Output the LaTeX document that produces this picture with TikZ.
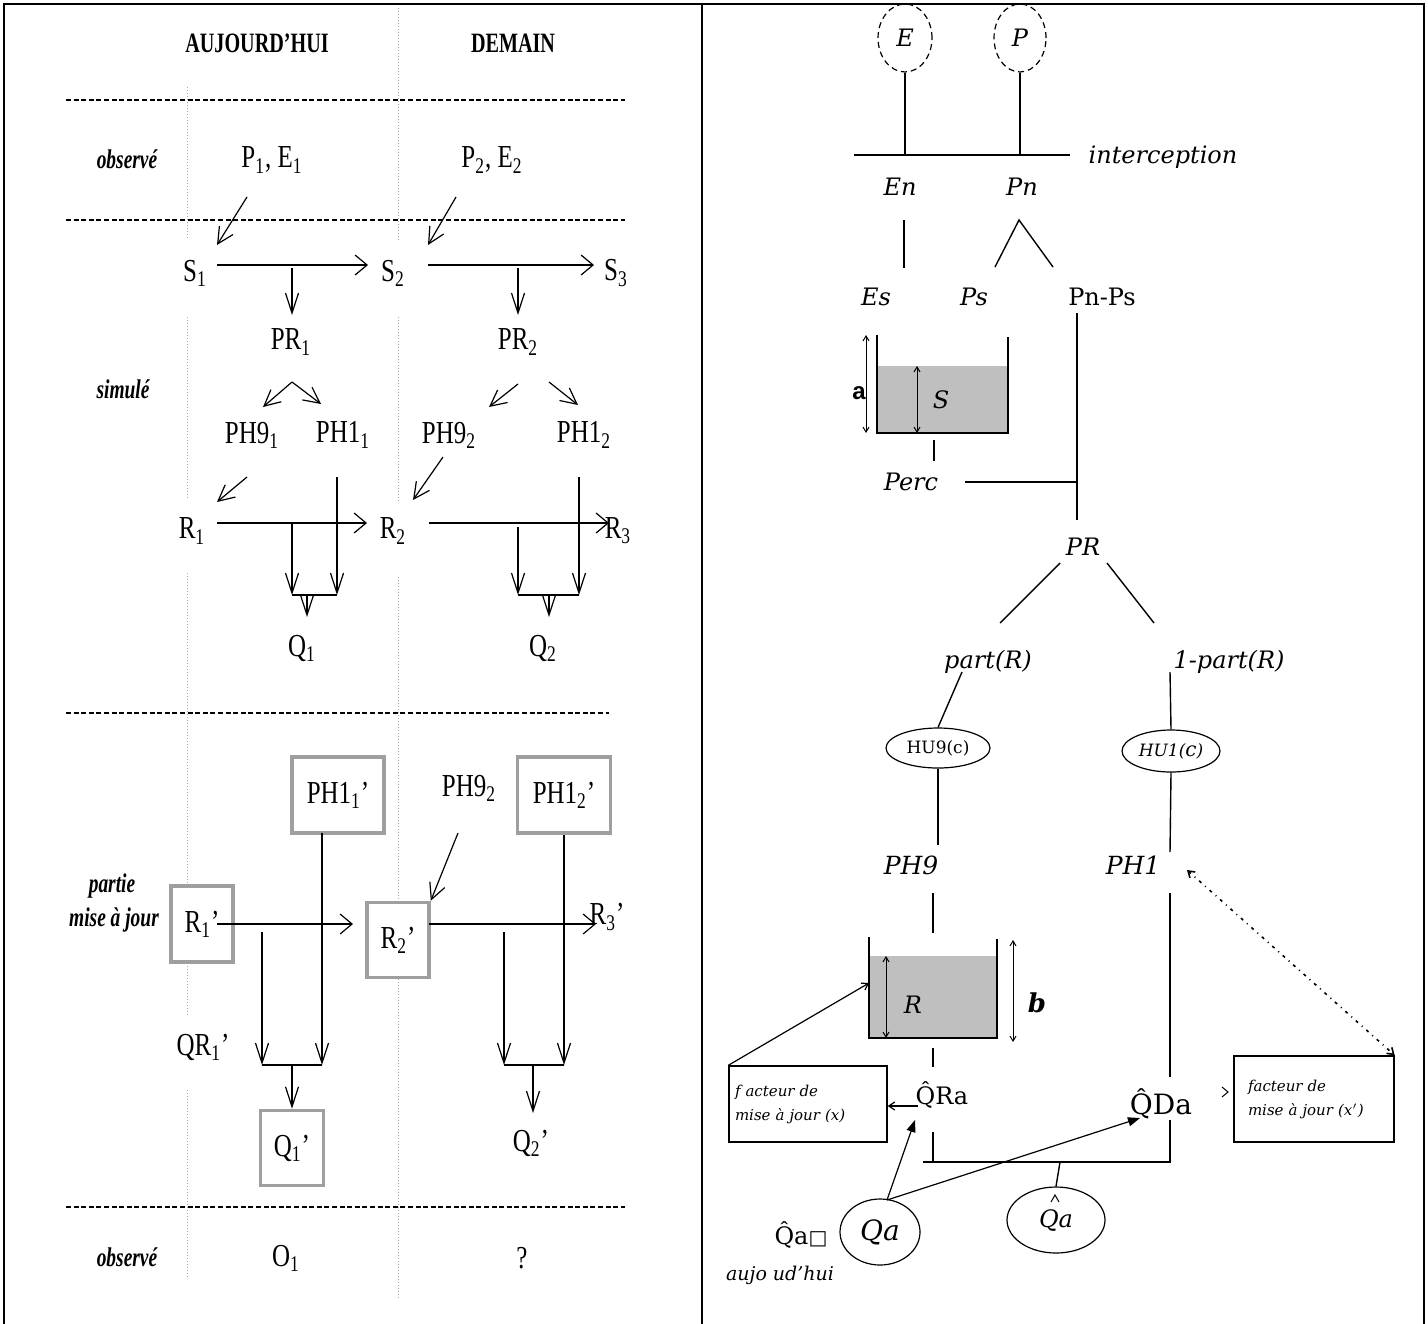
\documentclass[tikz,border=0pt]{standalone}
\usepackage{fontspec}
\setmainfont{Liberation Serif}
\newfontfamily\hfont[FakeStretch=0.72]{Liberation Serif}
\newfontfamily\lfont[FakeStretch=0.78]{Liberation Serif}
\newfontfamily\rfont{DejaVu Serif}
\newfontfamily\sfont{Liberation Sans}
\newfontfamily\symfont{DejaVu Sans}
\usetikzlibrary{arrows.meta,shapes.geometric}
\begin{document}
\begin{tikzpicture}[x=0.5pt,y=-0.5pt,
  frame/.style={line width=1.3pt},
  dotv/.style={gray!70, line width=0.5pt, dash pattern=on 0.5pt off 1pt},
  dashh/.style={line width=0.7pt, dash pattern=on 2.5pt off 1.3pt},
  hdr/.style={font=\hfont\bfseries\fontsize{14}{14}\selectfont, inner sep=0pt},
  rowlbl/.style={font=\hfont\bfseries\itshape\fontsize{13.5}{13.5}\selectfont, inner sep=0pt},
  lbl/.style={font=\lfont\fontsize{16}{16}\selectfont, inner sep=0pt},
  harr/.style={line width=0.6pt, -{Straight Barb[length=6pt,width=10pt]}},
  varr/.style={line width=0.6pt, -{Straight Barb[length=10pt,width=6.5pt]}},
  darr/.style={line width=0.6pt, -{Straight Barb[length=8pt,width=8pt]}},
  joinline/.style={line width=1.1pt},
  gbox/.style={draw=gray!75, line width=1.8pt, fill=white, inner sep=0pt, font=\lfont\fontsize{16}{16}\selectfont},
  rt/.style={font=\rfont\itshape\fontsize{12}{12}\selectfont, inner sep=0pt},
  ru/.style={font=\rfont\fontsize{12}{12}\selectfont, inner sep=0pt},
  rline/.style={line width=0.7pt},
  oval/.style={ellipse, draw, line width=0.6pt, inner sep=0pt},
  water/.style={fill=gray!50, draw=none},
  dbl/.style={line width=0.5pt, {Straight Barb[length=2.5pt,width=3pt]}-{Straight Barb[length=2.5pt,width=3pt]}},
  factbox/.style={draw, line width=0.7pt, fill=white, font=\rfont\itshape\fontsize{7.5}{12}\selectfont, align=left, inner sep=0pt},
  filla/.style={line width=0.6pt, -{Triangle[length=6pt,width=4.5pt]}},
  thinarr/.style={line width=0.6pt, -{Straight Barb[length=3pt,width=4pt]}},
  dashdot/.style={line width=0.8pt, dash pattern=on 1.5pt off 2.5pt on 0.5pt off 2.5pt,
     {Straight Barb[length=3pt,width=4pt]}-{Straight Barb[length=3pt,width=4pt]}}
]
\useasboundingbox (0,0) rectangle (1428,1323);
% ---------- frame ----------
\draw[frame] (4,1330) -- (4,4) -- (1424,4) -- (1424,1330);
\draw[frame] (702,4) -- (702,1330);

% ---------- left panel grid ----------
\draw[dotv] (187,87) -- (187,240);
\draw[dotv] (187,317) -- (187,500);
\draw[dotv] (187,573) -- (187,1015);
\draw[dotv] (187,1090) -- (187,1277);
\draw[dotv] (398,8) -- (398,240);
\draw[dotv] (398,317) -- (398,503);
\draw[dotv] (398,577) -- (398,1300);
\draw[dashh] (66,100) -- (625,100);
\draw[dashh] (66,220) -- (625,220);
\draw[dashh] (66,713) -- (609,713);
\draw[dashh] (66,1207) -- (625,1207);

% headers and row labels
\node[hdr] (auj) at (257,43) {AUJOURD’HUI};
\node[hdr] (dem) at (513,43) {DEMAIN};
\node[rowlbl] (obsA) at (127,159) {observé};
\node[rowlbl] (simu) at (123,389) {simulé};
\node[rowlbl] (part) at (112,886) {partie};
\node[rowlbl] (mise) at (114,920) {mise à jour};
\node[rowlbl] (obsB) at (127,1257) {observé};

% simulated nodes
\node[lbl] (pe1) at (272,160) {P\textsubscript{1}, E\textsubscript{1}};
\node[lbl] (pe2) at (492,160) {P\textsubscript{2}, E\textsubscript{2}};
\node[lbl] (s1) at (195,273) {S\textsubscript{1}};
\node[lbl] (s2) at (393,273) {S\textsubscript{2}};
\node[lbl] (s3) at (616,273) {S\textsubscript{3}};
\node[lbl] (pr1) at (291,342) {PR\textsubscript{1}};
\node[lbl] (pr2) at (518,342) {PR\textsubscript{2}};
\node[lbl] (ph91) at (252,435) {PH9\textsubscript{1}};
\node[lbl] (ph11) at (343,435) {PH1\textsubscript{1}};
\node[lbl] (ph92) at (449,435) {PH9\textsubscript{2}};
\node[lbl] (ph12) at (584,435) {PH1\textsubscript{2}};
\node[lbl] (r1) at (192,531) {R\textsubscript{1}};
\node[lbl] (r2) at (393,531) {R\textsubscript{2}};
\node[lbl] (r3) at (618,531) {R\textsubscript{3}};
\node[lbl] (q1) at (302,648) {Q\textsubscript{1}};
\node[lbl] (q2) at (543,648) {Q\textsubscript{2}};

\coordinate (a1s) at (247,197); \coordinate (a1e) at (217,245);
\coordinate (a2s) at (456,197); \coordinate (a2e) at (428,245);
\coordinate (s12s) at (217,265); \coordinate (s12e) at (368,265);
\coordinate (s23s) at (428,265); \coordinate (s23e) at (594,265);
\coordinate (d1s) at (292,268); \coordinate (d1e) at (292,315);
\coordinate (d2s) at (518,268); \coordinate (d2e) at (518,315);
\coordinate (w1) at (292,382); \coordinate (w1l) at (263,407); \coordinate (w1r) at (321,404);
\coordinate (w2ls) at (518,384); \coordinate (w2le) at (489,407);
\coordinate (w2rs) at (549,382); \coordinate (w2re) at (578,405);
\coordinate (b1s) at (247,477); \coordinate (b1e) at (217,502);
\coordinate (b2s) at (443,457); \coordinate (b2e) at (413,500);
\coordinate (r12s) at (217,523); \coordinate (r12e) at (367,523);
\coordinate (r23s) at (429,523); \coordinate (r23e) at (609,523);
\coordinate (v1a) at (292,523); \coordinate (v1b) at (292,595);
\coordinate (v2a) at (337,477); \coordinate (v2b) at (337,595);
\coordinate (m1a) at (307,595); \coordinate (m1b) at (307,617);
\coordinate (v3a) at (518,527); \coordinate (v3b) at (518,595);
\coordinate (v4a) at (579,477); \coordinate (v4b) at (579,595);
\coordinate (m2a) at (549,595); \coordinate (m2b) at (549,617);

\draw[darr] (a1s) -- (a1e);
\draw[darr] (a2s) -- (a2e);
\draw[harr] (s12s) -- (s12e);
\draw[harr] (s23s) -- (s23e);
\draw[varr] (d1s) -- (d1e);
\draw[varr] (d2s) -- (d2e);
\draw[darr] (w1) -- (w1l);
\draw[darr] (w1) -- (w1r);
\draw[darr] (w2ls) -- (w2le);
\draw[darr] (w2rs) -- (w2re);
\draw[darr] (b1s) -- (b1e);
\draw[darr] (b2s) -- (b2e);
\draw[harr] (r12s) -- (r12e);
\draw[harr] (r23s) -- (r23e);
\draw[varr] (v1a) -- (v1b);
\draw[varr] (v2a) -- (v2b);
\draw[joinline] (v1b) -- (v2b);
\draw[varr] (m1a) -- (m1b);
\draw[varr] (v3a) -- (v3b);
\draw[varr] (v4a) -- (v4b);
\draw[joinline] (v3b) -- (v4b);
\draw[varr] (m2a) -- (m2b);

% updated part
\node[gbox, minimum width=31pt, minimum height=38pt] (r1p) at (202,924) {R\textsubscript{1}’\hspace{3pt}};
\node[gbox, minimum width=46pt, minimum height=38pt] (ph11p) at (338,795) {PH1\textsubscript{1}’\hspace{4pt}};
\node[gbox, minimum width=46.5pt, minimum height=38pt] (ph12p) at (564,795) {PH1\textsubscript{2}’\hspace{3pt}};
\node[gbox, minimum width=31pt, minimum height=37.5pt] (r2p) at (398,940) {R\textsubscript{2}’\hspace{2pt}};
\node[gbox, minimum width=31.5pt, minimum height=37.5pt] (q1p) at (292,1148) {Q\textsubscript{1}’};
\node[lbl] (ph92b) at (469,788) {PH9\textsubscript{2}};
\node[lbl] (r3p) at (607,917) {R\textsubscript{3}’};
\node[lbl] (qr1p) at (203,1047) {QR\textsubscript{1}’};
\node[lbl] (q2p) at (531,1143) {Q\textsubscript{2}’};
\node[lbl] (o1) at (286,1258) {O\textsubscript{1}};
\node[lbl] (qm) at (522,1258) {?};

\coordinate (u1s) at (217,924); \coordinate (u1e) at (353,924);
\coordinate (u2s) at (429,924); \coordinate (u2e) at (596,924);
\coordinate (u3s) at (458,833);
\coordinate (x1a) at (262,932); \coordinate (x1b) at (262,1065);
\coordinate (x2a) at (322,833); \coordinate (x2b) at (322,1065);
\coordinate (x3a) at (292,1065);
\coordinate (y1a) at (504,932); \coordinate (y1b) at (504,1065);
\coordinate (y2b) at (564,1065);
\coordinate (y3a) at (533,1065); \coordinate (y3b) at (533,1113);

\draw[harr] (u1s) -- (u1e);
\draw[harr] (u2s) -- (u2e);
\draw[darr] (u3s) -- (r2p.north east);
\draw[varr] (x1a) -- (x1b);
\draw[varr] (x2a) -- (x2b);
\draw[joinline] (x1b) -- (x2b);
\draw[varr] (x3a) -- (q1p.north);
\draw[varr] (y1a) -- (y1b);
\draw[varr] (ph12p.south) -- (y2b);
\draw[joinline] (y1b) -- (y2b);
\draw[varr] (y3a) -- (y3b);

% ---------- right panel ----------
\node[oval, densely dashed, minimum width=27pt, minimum height=34pt, rt] (E) at (905,38) {E};
\node[oval, densely dashed, minimum width=26pt, minimum height=34pt, rt] (P) at (1020,38) {P};
\coordinate (eb) at (905,155); \coordinate (pb) at (1020,155);
\coordinate (il) at (854,155); \coordinate (ir) at (1070,155);
\draw[rline] (E.south) -- (eb);
\draw[rline] (P.south) -- (pb);
\draw[line width=1pt] (il) -- (ir);
\node[rt] (interc) at (1163,157) {interception};
\node[rt] (En) at (900,187) {En};
\node[rt] (Pn) at (1022,187) {Pn};
\node[rt] (Es) at (876,297) {Es};
\node[rt] (Ps) at (974,297) {Ps};
\node[ru] (PnPs) at (1102,297) {Pn-Ps};
\coordinate (ena) at (904,220); \coordinate (enb) at (904,268);
\coordinate (pnl) at (995,267); \coordinate (pnt) at (1019,220); \coordinate (pnr) at (1053,267);
\draw[rline] (ena) -- (enb);
\draw[rline] (pnl) -- (pnt) -- (pnr);
\coordinate (pp1) at (1077,313); \coordinate (pp2) at (1077,520); \coordinate (pp3) at (1077,482);
\coordinate (pc1) at (965,482);
\draw[line width=0.9pt] (pp1) -- (pp2);
\draw[line width=0.9pt] (pc1) -- (pp3);
% reservoir S
\fill[water] (877,366) rectangle (1008,433);
\draw[line width=0.8pt] (877,335) -- (877,433) -- (1008,433) -- (1008,337);
\draw[line width=1.1pt] (877,366) -- (877,433);
\coordinate (sa1) at (866,335); \coordinate (sa2) at (866,433);
\coordinate (ss1) at (917,366); \coordinate (ss2) at (917,433);
\draw[dbl] (sa1) -- (sa2);
\draw[dbl] (ss1) -- (ss2);
\node[font=\sfont\bfseries\fontsize{12}{12}\selectfont, inner sep=0pt] (alab) at (859,393) {a};
\node[rt] (Slab) at (941,400) {S};
\node[rt] (Perc) at (911,482) {Perc};
\coordinate (pe1a) at (934,440); \coordinate (pe1b) at (934,461);
\draw[rline] (pe1a) -- (pe1b);
\node[rt] (PR) at (1083,547) {PR};
\coordinate (prl1) at (1060,563); \coordinate (prl2) at (1000,623);
\coordinate (prr1) at (1107,563); \coordinate (prr2) at (1154,623);
\draw[rline] (prl1) -- (prl2);
\draw[rline] (prr1) -- (prr2);
\node[rt] (partR) at (988,662) {part(R)};
\node[rt] (opartR) at (1229,662) {1-part(R)};
\node[oval, minimum width=52pt, minimum height=20pt, font=\rfont\fontsize{8.5}{9}\selectfont] (hu9) at (938,748) {HU9(c)};
\node[oval, minimum width=49pt, minimum height=21pt, font=\rfont\itshape\fontsize{8.5}{9}\selectfont] (hu1) at (1171,751) {HU1({\fontsize{10}{10}\selectfont c})};
\coordinate (pr9) at (962,672); \coordinate (pr1c) at (1170,672);
\draw[rline] (pr9) -- (hu9.north);
\draw[rline] (pr1c) -- (hu1.north);
\coordinate (h9b) at (938,845); \coordinate (h1b) at (1170,852);
\draw[rline] (hu9.south) -- (h9b);
\draw[rline] (hu1.south) -- (h1b);
\node[rt, font=\rfont\itshape\fontsize{12.5}{12.5}\selectfont] (PH9) at (911,865) {PH9};
\node[rt, font=\rfont\itshape\fontsize{12.5}{12.5}\selectfont] (PH1) at (1133,865) {PH1};
\coordinate (p9a) at (933,893); \coordinate (p9b) at (933,933);
\coordinate (p1a) at (1170,893); \coordinate (p1b) at (1170,1077);
\coordinate (p1c) at (1170,1120); \coordinate (p1d) at (1170,1162);
\draw[rline] (p9a) -- (p9b);
\draw[rline] (p1a) -- (p1b);
% reservoir R
\fill[water] (869,956) rectangle (997,1038);
\draw[line width=0.8pt] (869,937) -- (869,1038) -- (997,1038) -- (997,939);
\coordinate (ri1) at (886,956); \coordinate (ri2) at (886,1038);
\coordinate (rb1) at (1013,940); \coordinate (rb2) at (1013,1042);
\draw[dbl] (ri1) -- (ri2);
\draw[dbl] (rb1) -- (rb2);
\node[rt] (Rlab) at (913,1005) {R};
\node[font=\rfont\bfseries\itshape\fontsize{13}{13}\selectfont, inner sep=0pt] (blab) at (1037,1003) {b};
\coordinate (qr1) at (933,1048); \coordinate (qr2) at (933,1067);
\draw[rline] (qr1) -- (qr2);
\node[ru] (QRa) at (942,1095) {\^{Q}Ra};
\node[ru, font=\rfont\fontsize{14}{14}\selectfont] (QDa) at (1161,1104) {\^{Q}Da};
\coordinate (qr3) at (933,1132); \coordinate (qr4) at (933,1162);
\coordinate (qmid) at (1060,1162); \coordinate (qtick) at (923,1162);
\draw[rline] (qr3) -- (qr4) -- (p1d) -- (p1c);
\draw[rline] (qtick) -- (qr4);
% circles
\node[oval, minimum width=49pt, minimum height=33pt, rt] (Qhat) at (1056,1220) {\raisebox{-5pt}{Qa}};
\draw[line width=0.5pt] (1051,1202) -- (1055,1195) -- (1059,1202);
\draw[rline] (qmid) -- (Qhat.north);
\node[oval, minimum width=40pt, minimum height=33pt, font=\rfont\itshape\fontsize{14}{14}\selectfont] (Qa) at (880,1232) {Qa};
\node[ru] (Qal) at (801,1235) {\^{Q}a{\symfont\fontsize{10}{10}\selectfont □}};
\node[rt, font=\rfont\itshape\fontsize{9.5}{9.5}\selectfont] (auj2) at (780,1275) {aujo ud’hui};
% factor boxes
\node[factbox, minimum width=79pt, minimum height=38pt, text width=73pt] (fx) at (808,1104) {f acteur de\\mise à jour (x)};
\node[factbox, minimum width=80pt, minimum height=43pt, text width=66pt] (fxp) at (1314,1099) {facteur de\\mise à jour (x$'$)};
\coordinate (qrl) at (918,1106);
\coordinate (rwall) at (869,983);
\coordinate (ph1d) at (1187,870);
\draw[thinarr] (qrl) -- (fx.east |- qrl);
\draw[thinarr] (fx.north west) -- (rwall);
\draw[dashdot] (ph1d) -- (fxp.north east);
\draw[line width=0.5pt] (1222,1087) -- (1228,1092) -- (1222,1097);
\coordinate (qat) at (887,1200);
\coordinate (qaA) at (915,1120); \coordinate (qaB) at (1140,1118);
\draw[filla] (qat) -- (qaA);
\draw[filla] (qat) -- (qaB);
\end{tikzpicture}
\end{document}
